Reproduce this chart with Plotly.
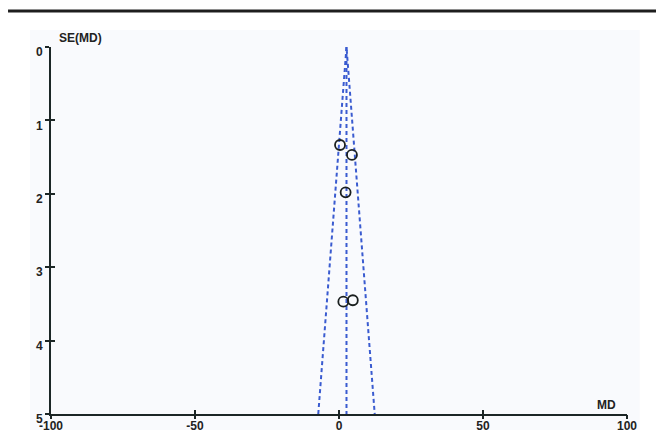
import plotly.graph_objects as go

# Study data
md = [0.35, 4.5, 2.3, 1.5, 4.8]
se = [1.335, 1.47, 1.98, 3.47, 3.45]

# Funnel (pooled estimate and 95% pseudo-confidence limits)
funnel_se = [5, 0, 5]
funnel_md = [-7.2, 2.6, 12.4]
pooled_se = [0, 5]
pooled_md = [2.6, 2.6]

x_ticks = [-100, -50, 0, 50, 100]
x_tick_labels = ["-100", "-50", "0", "50", "100"]
y_ticks = [0, 1, 2, 3, 4, 5]

FONT = "Liberation Sans"
AX = "#1c2626"
BLUE = "#3a5bd0"

fig = go.Figure()
fig.add_trace(go.Scatter(x=funnel_md, y=funnel_se, mode="lines",
                         line=dict(color=BLUE, width=2, dash="4px,3px"),
                         hoverinfo="skip", showlegend=False))
fig.add_trace(go.Scatter(x=pooled_md, y=pooled_se, mode="lines",
                         line=dict(color=BLUE, width=2, dash="4px,3px"),
                         hoverinfo="skip", showlegend=False))
fig.add_trace(go.Scatter(x=md, y=se, mode="markers",
                         marker=dict(symbol="circle-open", size=10,
                                     color="#1a1f1f", line=dict(width=1.8, color="#1a1f1f")),
                         showlegend=False))

tickfont = dict(family=FONT, size=12, color="#222", weight="bold")

fig.update_layout(
    width=656, height=422,
    margin=dict(l=43, r=37, t=39, b=16, autoexpand=False),
    paper_bgcolor="white",
    plot_bgcolor="rgba(0,0,0,0)",
    xaxis=dict(range=[-100, 100], tickvals=x_ticks, ticktext=x_tick_labels,
               ticks="inside", ticklen=4,
               tickwidth=1.5, tickcolor=AX, showline=True, linecolor=AX, linewidth=2,
               showgrid=False, zeroline=False, tickfont=tickfont, automargin=False,
               anchor="y"),
    yaxis=dict(range=[5, 0], tickvals=y_ticks, ticks="outside", ticklen=4,
               tickwidth=1.5, tickcolor=AX, showline=True, linecolor=AX, linewidth=2,
               showgrid=False, zeroline=False, tickfont=tickfont, automargin=False,
               ticklabelshift=-5, anchor="x"),
    xaxis2=dict(overlaying="x", matches="x", range=[-100, 100], tickvals=x_ticks,
                ticks="outside", ticklen=4, tickwidth=1.5, tickcolor=AX,
                showticklabels=False, showgrid=False, zeroline=False, showline=False,
                anchor="y", side="bottom"),
    yaxis2=dict(overlaying="y", matches="y", range=[5, 0], tickvals=y_ticks,
                ticks="inside", ticklen=4, tickwidth=1.5, tickcolor=AX,
                showticklabels=False, showgrid=False, zeroline=False, showline=False,
                anchor="x", side="left"),
    shapes=[
        dict(type="rect", xref="paper", yref="paper", x0=-0.0364, x1=1.022,
             y0=-0.05, y1=1.046, fillcolor="#f9fafd", line=dict(width=0), layer="below"),
        dict(type="line", xref="paper", yref="paper", x0=-0.0746, x1=1.0608,
             y0=1.098, y1=1.098, line=dict(color="#1e1e1e", width=3)),
    ],
    annotations=[
        dict(text="SE(MD)", xref="paper", yref="paper", x=0.01, y=1.0,
             xanchor="left", yanchor="bottom", showarrow=False,
             font=dict(family=FONT, size=12, color="#222", weight="bold")),
        dict(text="MD", xref="paper", yref="paper", x=0.985, y=0.0,
             xanchor="right", yanchor="bottom", showarrow=False,
             font=dict(family=FONT, size=12, color="#222", weight="bold")),
    ],
)
# dummy trace so the overlay axes (crossing tick marks) render
fig.add_trace(go.Scatter(x=[None], y=[None], xaxis="x2", yaxis="y2", showlegend=False))

fig.write_html("out.html")
